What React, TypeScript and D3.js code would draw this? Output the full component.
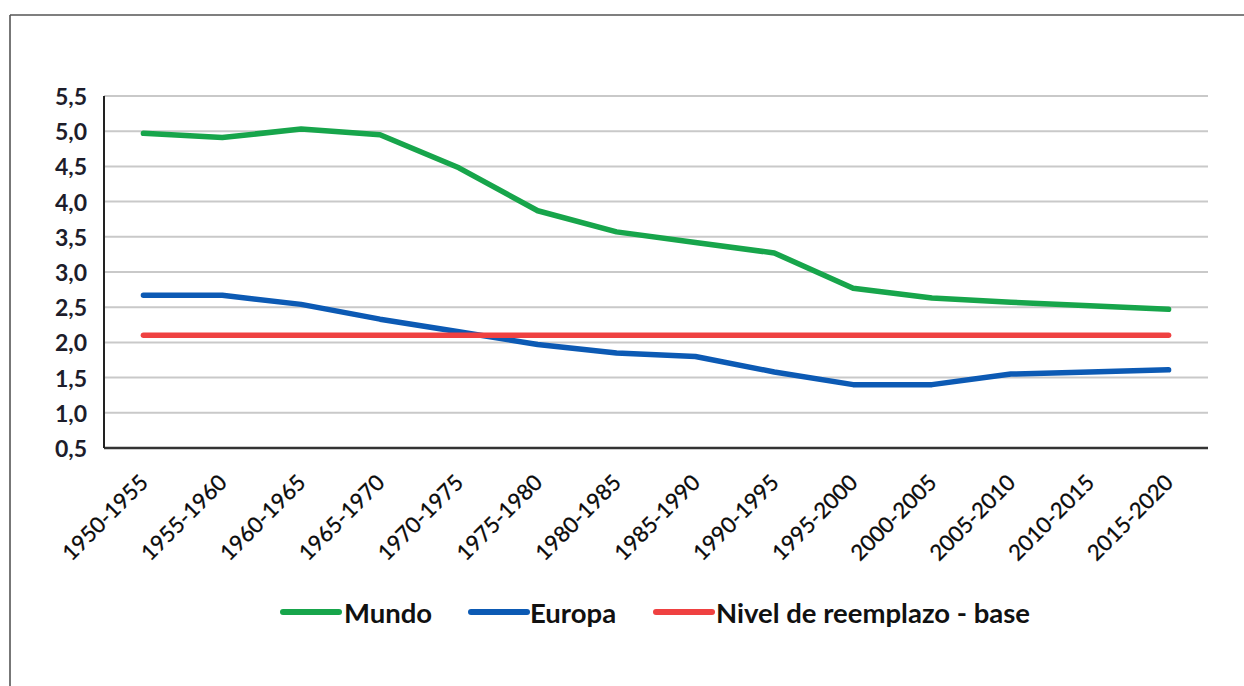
import React from "react";
import * as d3 from "d3";

const categories = [
  "1950-1955", "1955-1960", "1960-1965", "1965-1970", "1970-1975", "1975-1980", "1980-1985",
  "1985-1990", "1990-1995", "1995-2000", "2000-2005", "2005-2010", "2010-2015", "2015-2020",
];
const mundo = [4.97, 4.91, 5.03, 4.95, 4.48, 3.87, 3.57, 3.42, 3.27, 2.77, 2.63, 2.57, 2.52, 2.47];
const europa = [2.67, 2.67, 2.54, 2.33, 2.15, 1.97, 1.85, 1.8, 1.58, 1.4, 1.4, 1.55, 1.58, 1.61];
const reemplazo = [2.1, 2.1, 2.1, 2.1, 2.1, 2.1, 2.1, 2.1, 2.1, 2.1, 2.1, 2.1, 2.1, 2.1];
const yTicks = [0.5, 1.0, 1.5, 2.0, 2.5, 3.0, 3.5, 4.0, 4.5, 5.0, 5.5];

const series = [
  { name: "Mundo", values: mundo, color: "#17a54b" },
  { name: "Europa", values: europa, color: "#0c5ab4" },
  { name: "Nivel de reemplazo - base", values: reemplazo, color: "#ef4141" },
];

const W = 1244;
const H = 686;
const left = 104;
const right = 1208;
const top = 96;
const bottom = 448;

export default function App() {
  const x = d3.scaleBand<string>().domain(categories).range([left, right]);
  const y = d3.scaleLinear().domain([0.5, 5.5]).range([bottom, top]);
  const cx = (c: string) => (x(c) as number) + x.bandwidth() / 2;
  const fmt = (v: number) => v.toFixed(1).replace(".", ",");
  const font = "Lato, 'Open Sans', sans-serif";

  const legendItems = [
    { ...series[0], x0: 283, tx: 344 },
    { ...series[1], x0: 471, tx: 530 },
    { ...series[2], x0: 656, tx: 716 },
  ];

  return (
    <svg
      width={W}
      height={H}
      style={{ position: "absolute", left: 0, top: 0, background: "#fff" }}
    >
      <rect x={0} y={0} width={W} height={H} fill="#fff" />
      {/* frame */}
      <line x1={10} y1={15} x2={W} y2={15} stroke="#555" strokeWidth={1.6} />
      <line x1={10} y1={15} x2={10} y2={H} stroke="#555" strokeWidth={1.6} />

      {/* gridlines */}
      {yTicks.slice(1).map((t) => (
        <line key={t} x1={left} x2={right} y1={y(t)} y2={y(t)} stroke="#c9c9c9" strokeWidth={2} />
      ))}
      {/* axes */}
      <line x1={left} x2={right} y1={y(0.5)} y2={y(0.5)} stroke="#333" strokeWidth={2.5} />
      <line x1={left} x2={left} y1={y(5.5)} y2={y(0.5)} stroke="#222" strokeWidth={2} />

      {/* y tick labels */}
      {yTicks.map((t) => (
        <text
          key={t}
          x={87}
          y={y(t)}
          textAnchor="end"
          dominantBaseline="central"
          fontFamily={font}
          fontWeight={700}
          fontSize={23}
          fill="#1d1d2b"
        >
          {fmt(t)}
        </text>
      ))}

      {/* x tick labels */}
      {categories.map((c) => {
        const px = cx(c) + 6;
        const py = 484;
        return (
          <text
            key={c}
            x={px}
            y={py}
            textAnchor="end"
            transform={`rotate(-45 ${px} ${py})`}
            fontFamily={font}
            fontSize={22}
            fill="#0a0a0a"
            stroke="#0a0a0a"
            strokeWidth={0.3}
          >
            {c}
          </text>
        );
      })}

      {/* lines */}
      {series.map((s) => {
        const line = d3
          .line<number>()
          .x((_, i) => cx(categories[i]))
          .y((d) => y(d))
          .curve(d3.curveLinear);
        return (
          <path
            key={s.name}
            d={line(s.values) || ""}
            fill="none"
            stroke={s.color}
            strokeWidth={5.5}
            strokeLinecap="round"
            strokeLinejoin="round"
          />
        );
      })}

      {/* legend */}
      {legendItems.map((s) => (
        <g key={s.name}>
          <line
            x1={s.x0}
            x2={s.x0 + 56}
            y1={612}
            y2={612}
            stroke={s.color}
            strokeWidth={6}
            strokeLinecap="round"
          />
          <text
            x={s.tx}
            y={612}
            dominantBaseline="central"
            fontFamily={font}
            fontWeight={700}
            fontSize={27.5}
            fill="#111"
          >
            {s.name}
          </text>
        </g>
      ))}
    </svg>
  );
}
